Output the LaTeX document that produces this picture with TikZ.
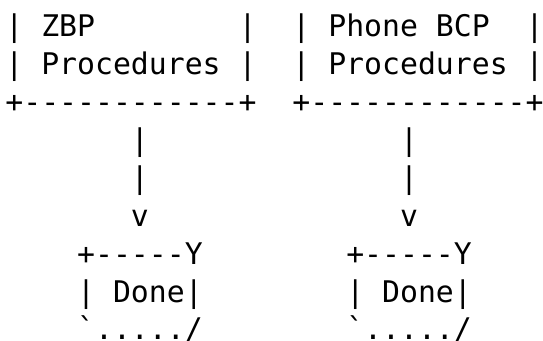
\documentclass[tikz,border=0pt]{standalone}
\usepackage{fontspec}
\setmonofont{DejaVu Sans Mono}
\usetikzlibrary{positioning}
\tikzset{asciirow/.style={anchor=base west, inner sep=0pt, font=\ttfamily\fontsize{14.9pt}{19pt}\selectfont}}

\begin{document}
\begin{tikzpicture}[x=0.5pt, y=-0.5pt]
		\useasboundingbox (0,0) rectangle (543,341);
		% Rows of the plain-text figure:
		\node[asciirow] (row1) at (5,37) {|~ZBP~~~~~~~~|~~|~Phone~BCP~~|};
		\node[asciirow] (row2) at (5,75) {|~Procedures~|~~|~Procedures~|};
		\node[asciirow] (row3) at (5,113) {+------------+~~+------------+};
		\node[asciirow] (row4) at (5,151) {~~~~~~~|~~~~~~~~~~~~~~|};
		\node[asciirow] (row5) at (5,189) {~~~~~~~|~~~~~~~~~~~~~~|};
		\node[asciirow] (row6) at (5,227) {~~~~~~~v~~~~~~~~~~~~~~v};
		\node[asciirow] (row7) at (5,265) {~~~~+-----Y~~~~~~~~+-----Y};
		\node[asciirow] (row8) at (5,303) {~~~~|~Done|~~~~~~~~|~Done|};
		\node[asciirow] (row9) at (5,340) {~~~~\symbol{96}...../~~~~~~~~\symbol{96}...../};
	\end{tikzpicture}
\end{document}
